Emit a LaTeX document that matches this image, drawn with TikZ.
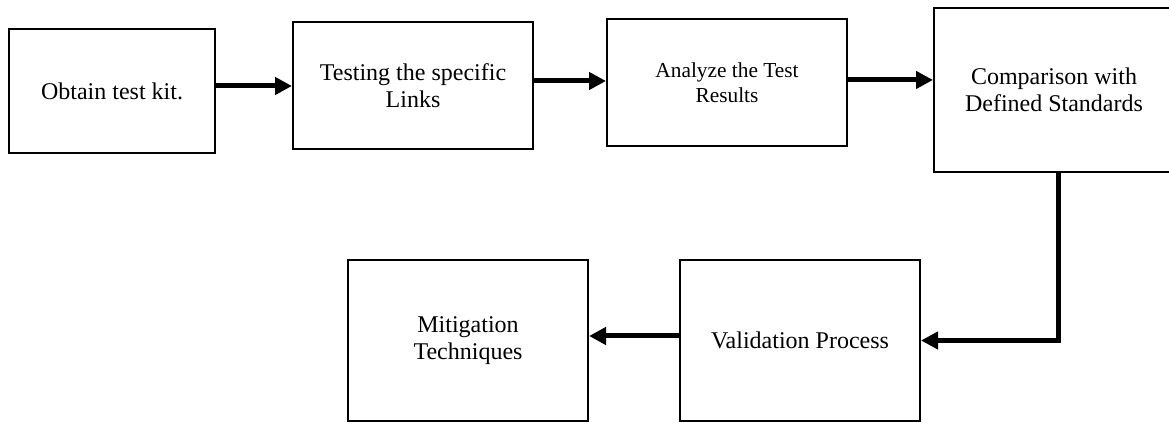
\documentclass[tikz,border=0pt]{standalone}
\usepackage{fontspec}
\setmainfont{Liberation Serif}
\usetikzlibrary{arrows.meta}
\tikzset{
  stepbox/.style={draw=black, line width=1.5pt, rectangle, inner sep=0pt, align=center,
    minimum width=180pt, font=\fontsize{18}{20.5}\selectfont},
  arr/.style={line width=3.75pt, -{Triangle[length=12.75pt,width=12.75pt]}, line join=miter}
}
\begin{document}
\begin{tikzpicture}[x=0.75pt,y=-0.75pt]
\useasboundingbox (0,0) rectangle (1169,423);
\clip (0,0) rectangle (1169,423);
\node[stepbox, minimum width=154.5pt, minimum height=93pt] (b1) at (112,91) {Obtain test kit.};
\node[stepbox, minimum height=95.25pt] (b2) at (413,85.5) {Testing the specific\\Links};
\node[stepbox, minimum height=95.25pt, font=\fontsize{16}{18.5}\selectfont] (b3) at (727,82.5) {Analyze the Test\\Results};
\node[stepbox, minimum height=123pt] (b4) at (1054,90) {Comparison with\\Defined Standards};
\node[stepbox, minimum height=120.75pt] (b5) at (800,340.5) {Validation Process};
\node[stepbox, minimum height=120.75pt] (b6) at (468,340.5) {Mitigation\\Techniques};
\draw[arr] ([yshift=3.75pt]b1.east) -- ([yshift=3.75pt]b1.east -| b2.west);
\draw[arr] ([yshift=3.375pt]b2.east) -- ([yshift=3.375pt]b2.east -| b3.west);
\draw[arr] ([yshift=1.9pt]b3.east) -- ([yshift=1.9pt]b3.east -| b4.west);
\draw[arr] ([xshift=3.375pt]b4.south) |- (b5.east);
\draw[arr] ([yshift=3.375pt]b5.west) -- ([yshift=3.375pt]b5.west -| b6.east);
\end{tikzpicture}
\end{document}
